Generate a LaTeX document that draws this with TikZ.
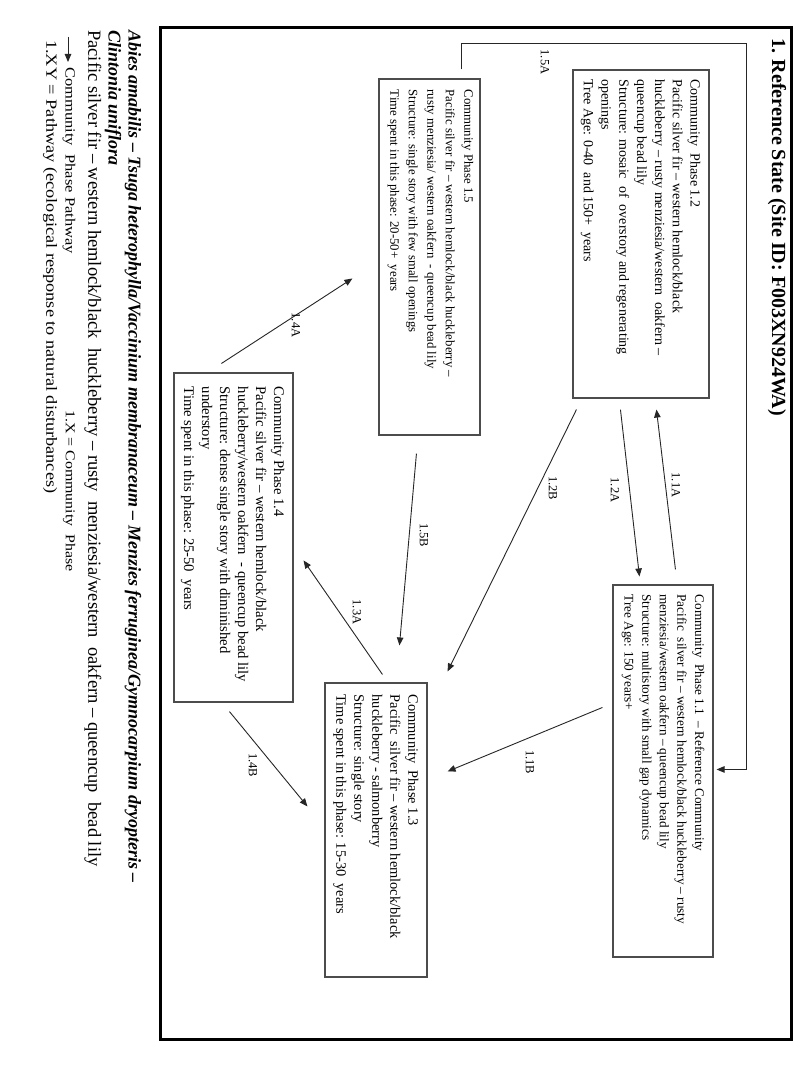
\documentclass[tikz,border=0pt]{standalone}
\usepackage{fontspec}
\setmainfont{Liberation Serif}
\newfontfamily\widefont[FakeStretch=1.18]{Liberation Serif}
\usetikzlibrary{arrows.meta,calc}
\begin{document}
\begin{tikzpicture}[x=1pt,y=-1pt,
  box/.style={draw=black!70, line width=1.1pt, rectangle, inner sep=0pt},
  boxtext/.style={rotate=-90, anchor=north west, inner sep=0pt, align=left, font=\fontsize{14}{17.8}\selectfont},
  lbl/.style={rotate=-90, inner sep=0pt, font=\fontsize{12.5}{14}\selectfont},
  arr/.style={draw=black!85, line width=0.9pt, -{Triangle[length=8pt,width=6.5pt]}},
  rtext/.style={rotate=-90, anchor=west, inner sep=0pt}
]
\useasboundingbox (0,0) rectangle (800,1065);
\fill[white] (0,0) rectangle (800,1065);

% outer frame
\node[draw=black, line width=3pt, minimum width=631pt, minimum height=1011pt, inner sep=0pt] (frame) at (475.5,533.5) {};

% title
\node[rtext, font=\fontsize{20}{24}\selectfont\bfseries] (title) at (777,38) {1. Reference State (Site ID: F003XN924WA)};

% boxes
\node[box, minimum width=136pt, minimum height=328pt] (b12) at (641,234) {};
\node[box, minimum width=100pt, minimum height=372pt] (b11) at (663,771) {};
\node[box, minimum width=101pt, minimum height=356pt] (b15) at (429.5,257) {};
\node[box, minimum width=119pt, minimum height=329pt] (b14) at (233.5,537.5) {};
\node[box, minimum width=102pt, minimum height=294pt] (b13) at (376,830) {};

% box texts
\node[boxtext] (t12) at ($(b12.north east)+(-9,10)$) {Community\ \ Phase 1.2\\
Pacific silver fir -- western hemlock/black\\
huckleberry -- rusty menziesia/western\ \ oakfern --\\
queencup bead lily\\
Structure: mosaic\ \ of\ \ overstory and regenerating\\
openings\\
Tree Age: 0-40\ \ and 150+\ \ years};

\node[boxtext, font=\fontsize{13.2}{17.6}\selectfont] (t11) at ($(b11.north east)+(-9,10)$) {Community\ \ Phase 1.1\ \ -- Reference Community\\
Pacific\ \ silver fir -- western hemlock/black huckleberry -- rusty\\
menziesia/western oakfern -- queencup bead lily\\
Structure: multistory with small gap dynamics\\
Tree Age: 150 years+};

\node[boxtext, font=\fontsize{12.8}{18.5}\selectfont] (t15) at ($(b15.north east)+(-7,11)$) {Community Phase 1.5\\
Pacific silver fir -- western hemlock/black huckleberry --\\
rusty menziesia/ western oakfern\ \ - queencup bead lily\\
Structure: single story with few small openings\\
Time spent in this phase: 20-50+\ \ years};

\node[boxtext, font=\fontsize{14.7}{18}\selectfont] (t14) at ($(b14.north east)+(-9,14)$) {Community Phase 1.4\\
Pacific silver fir -- western hemlock/black\\
huckleberry/western oakfern\ \ - queencup bead lily\\
Structure: dense single story with diminished\\
understory\\
Time spent in this phase: 25-50\ \ years};

\node[boxtext, font=\fontsize{14.4}{18}\selectfont] (t13) at ($(b13.north east)+(-9,12)$) {Community\ \ Phase 1.3\\
Pacific\ \ silver fir -- western hemlock/black\\
huckleberry - salmonberry\\
Structure: single story\\
Time spent in this phase: 15-30\ \ years};

% connectors
\coordinate (c5a) at (746,43);
\draw[arr] ($(b15.north west)+(83,-9)$) |- (c5a) |- ($(b11.north east)+(3,185)$);
\draw[arr] ($(b11.north west)+(63,-15)$) -- ($(b12.south west)+(84,11)$);
\draw[arr] ($(b12.south west)+(48,11)$) -- ($(b11.north west)+(27,-8)$);
\draw[arr] ($(b12.south west)+(4,11)$) -- ($(b13.north east)+(20,-11)$);
\draw[arr] ($(b11.north west)+(-10,123)$) -- ($(b13.north east)+(20,89)$);
\draw[arr] ($(b15.south west)+(38,18)$) -- ($(b13.north west)+(75,-37)$);
\draw[arr] ($(b13.north west)+(58,-8)$) -- ($(b14.north east)+(10,188)$);
\draw[arr] ($(b14.north west)+(48,-9)$) -- ($(b15.north west)+(-26,200)$);
\draw[arr] ($(b14.south west)+(56,9)$) -- ($(b13.north west)+(-17,124)$);

% connector labels
\node[lbl] (l15a) at (545,62) {1.5A};
\node[lbl] (l11a) at (676,485) {1.1A};
\node[lbl] (l12a) at (615,490) {1.2A};
\node[lbl] (l12b) at (553,488) {1.2B};
\node[lbl] (l11b) at (530,762) {1.1B};
\node[lbl] (l15b) at (424,535) {1.5B};
\node[lbl] (l13a) at (357,612) {1.3A};
\node[lbl] (l14a) at (296,325) {1.4A};
\node[lbl] (l14b) at (253,765) {1.4B};

% legend
\node[rtext, font=\fontsize{18}{22}\selectfont\bfseries\itshape] (sci1) at (133,30) {Abies amabilis -- Tsuga heterophylla/Vaccinium membranaceum -- Menzies ferruginea/Gymnocarpium dryopteris --};
\node[rtext, font=\fontsize{18}{22}\selectfont\bfseries\itshape] (sci2) at (113,30) {Clintonia uniflora};
\node[rtext, font=\fontsize{18.5}{22}\selectfont] (common) at (93,30) {Pacific silver fir -- western hemlock/black\ \ huckleberry -- rusty\ \ menziesia/western\ \ oakfern -- queencup\ \ bead lily};
\coordinate (la1) at (68,37);
\coordinate (la2) at (68,62);
\draw[arr] (la1) -- (la2);
\node[rtext, font=\widefont\fontsize{14}{16}\selectfont] (leg1) at (69,67) {Community\ \ Phase Pathway};
\node[rtext, font=\widefont\fontsize{13.5}{16}\selectfont] (leg2) at (69,410) {1.X = Community\ \ Phase};
\node[rtext, font=\widefont\fontsize{15.5}{18}\selectfont] (leg3) at (50,40) {1.XY = Pathway (ecological response to natural disturbances)};
\end{tikzpicture}
\end{document}
